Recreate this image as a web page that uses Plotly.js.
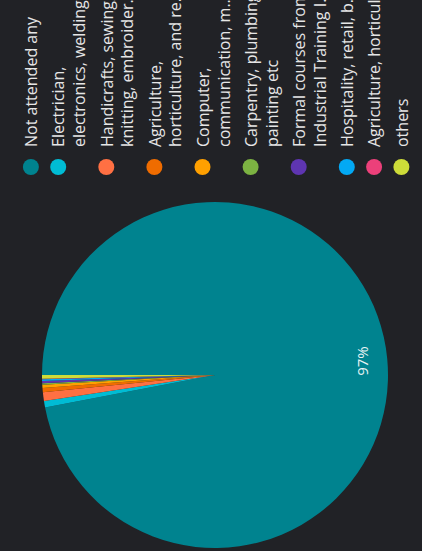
<!DOCTYPE html>
<html>
<head>
<meta charset="utf-8">
<script src="https://cdn.plot.ly/plotly-3.0.1.min.js"></script>
<style>
  html, body { margin:0; padding:0; background:#212226; }
  #wrap { position:relative; width:422px; height:551px; overflow:hidden; background:#212226; }
  #chart { position:absolute; left:0; top:0; width:700px; height:422px;
           transform-origin:0 0; transform: translateY(551px) rotate(-90deg); }
</style>
</head>
<body>
<div id="wrap"><div id="chart"></div></div>
<script>
// Categories (as displayed, truncated in the legend)
const categories = [
  "Not attended any",
  "Electrician,<br>electronics, welding...",
  "Handicrafts, sewing,<br>knitting, embroider...",
  "Agriculture,<br>horticulture, and re...",
  "Computer,<br>communication, m...",
  "Carpentry, plumbing,<br>painting etc",
  "Formal courses from<br>Industrial Training I...",
  "Hospitality, retail, b...",
  "Agriculture, horticul...",
  "others"
];
// Share of respondents (%)
const shares = [97.0, 0.6, 0.8, 0.4, 0.3, 0.15, 0.2, 0.15, 0.05, 0.35];
const colors = ["#00838f", "#00bcd4", "#ff7043", "#ef6c00", "#ffa000",
                "#7cb342", "#5e35b1", "#03a9f4", "#ec407a", "#cddc39"];

const W = 700, H = 422;
const pieDomain = { x: [3 / W, 349 / W], y: [(H - 388) / H, (H - 42) / H] };
const pie = {
  type: "pie",
  labels: categories,
  values: shares,
  marker: { colors: colors, line: { width: 0 } },
  sort: false,
  direction: "clockwise",
  rotation: 0,
  showlegend: false,
  textinfo: "none",
  hoverinfo: "label+percent",
  domain: pieDomain
};
// Transparent ring over the pie, used only to place the percent label near the rim
const labelRing = {
  type: "pie",
  labels: categories,
  values: shares,
  hole: 0.71,
  marker: { colors: categories.map(() => "rgba(0,0,0,0)"), line: { width: 0 } },
  sort: false,
  direction: "clockwise",
  rotation: 0,
  showlegend: false,
  textposition: categories.map((c, i) => i === 0 ? "inside" : "none"),
  texttemplate: "%{percent:.0%}",
  insidetextorientation: "horizontal",
  textfont: { family: "Open Sans", size: 15, color: "#e8f4f5" },
  hoverinfo: "skip",
  domain: pieDomain
};

// Legend-only entries with round markers
const legendTraces = categories.map((c, i) => ({
  type: "scatter", mode: "markers", x: [null], y: [null],
  name: c, legendgroup: "g" + i,
  marker: { color: colors[i], size: 16, symbol: "circle" },
  showlegend: true, hoverinfo: "skip"
}));

const layout = {
  width: W, height: H,
  paper_bgcolor: "#212226", plot_bgcolor: "#212226",
  margin: { l: 0, r: 0, t: 0, b: 0 },
  xaxis: { visible: false }, yaxis: { visible: false },
  showlegend: true,
  legend: {
    x: 364 / W, xanchor: "left", y: 1 - 14 / H, yanchor: "top",
    valign: "top",
    tracegroupgap: 3.5,
    bgcolor: "rgba(0,0,0,0)",
    font: { family: "Open Sans", size: 16, color: "#e6e6e6" },
    itemclick: false, itemdoubleclick: false
  }
};

Plotly.newPlot("chart", [pie, labelRing].concat(legendTraces), layout, { displayModeBar: false, staticPlot: true });
</script>
</body>
</html>
